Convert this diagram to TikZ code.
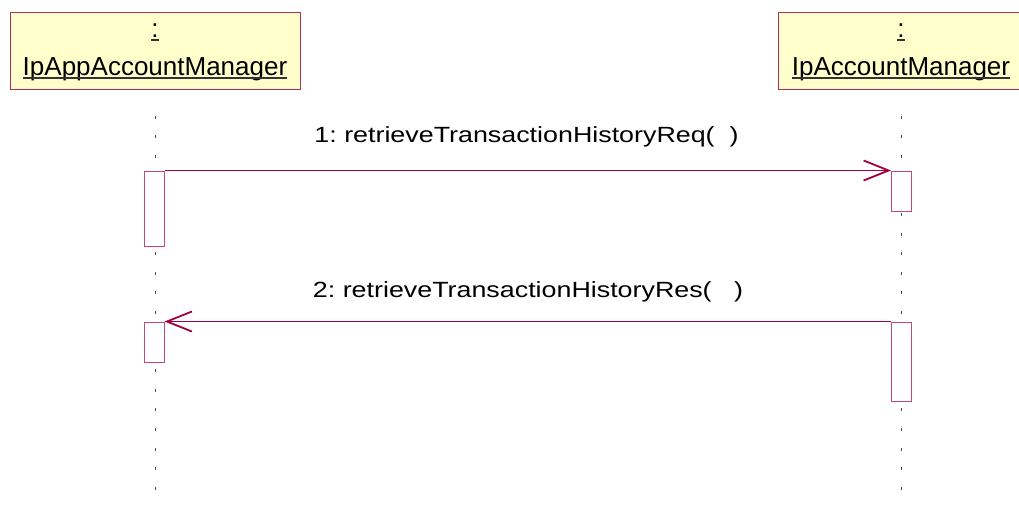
\documentclass[tikz,border=0pt]{standalone}
\usepackage{fontspec}
\setmainfont{Liberation Sans}
\usetikzlibrary{arrows.meta}
\definecolor{objborder}{HTML}{B0305A}
\definecolor{objfill}{HTML}{FFFFCC}
\definecolor{msgcol}{HTML}{A00040}
\definecolor{actcol}{HTML}{C04A74}
\frenchspacing
\begin{document}
\begin{tikzpicture}[x=1pt,y=-1pt,
  objbox/.style={draw=objborder,fill=objfill,line width=1pt,rectangle,inner sep=0pt,minimum width=#1,minimum height=77pt,anchor=north west},
  objtext/.style={inner sep=0pt,anchor=base,font=\fontsize{26}{30}\selectfont},
  lifeline/.style={draw=black!70,line width=1pt,dash pattern=on 3pt off 16.53pt},
  actbox/.style={draw=actcol,fill=white,line width=1pt,rectangle,inner sep=0pt,minimum width=19.5pt,minimum height=#1,anchor=north west},
  msg/.style={draw=msgcol,line width=1pt,-{Straight Barb[length=25pt,width=20pt,line width=1.8pt]}},
  msglabel/.style={inner sep=0pt,anchor=base,font=\fontsize{22}{26}\selectfont}
]
\useasboundingbox (0,0) rectangle (1019,506);
% objects
\node[objbox=290pt] (A) at (10,12) {};
\node[objbox=246pt] (B) at (778,12) {};
\node[objtext] (Ac) at (155,37) {:};
\node[objtext] (An) at (155,75) {IpAppAccountManager};
\node[objtext] (Bc) at (901,37) {:};
\node[objtext] (Bn) at (901,75) {IpAccountManager};
\foreach \n in {Ac,An,Bc,Bn}{
  \draw[line width=1.2pt,black!80] ([yshift=-3pt]\n.base west) -- ([yshift=-3pt]\n.base east);
}
% lifelines
\coordinate (Aend) at (155,491);
\coordinate (Bend) at (901.5,491);
\draw[lifeline] (155,115.5) -- (Aend);
\draw[lifeline] (901.5,115.5) -- (Bend);
% activations
\node[actbox=75pt] (a1) at (144,170.5) {};
\node[actbox=40pt] (b1) at (891,170.5) {};
\node[actbox=40pt] (a2) at (144,321.5) {};
\node[actbox=79pt] (b2) at (891,321.5) {};
% messages
\draw[msg] (a1.north east) -- (b1.north west);
\draw[msg] (b2.north west) -- (a2.north east);
\node[msglabel] (m1) at (526.5,142) {\scalebox{1.22}[1]{1: retrieveTransactionHistoryReq(\ \ )}};
\node[msglabel] (m2) at (528,297) {\scalebox{1.22}[1]{2: retrieveTransactionHistoryRes(\ \ \ )}};
\end{tikzpicture}
\end{document}
